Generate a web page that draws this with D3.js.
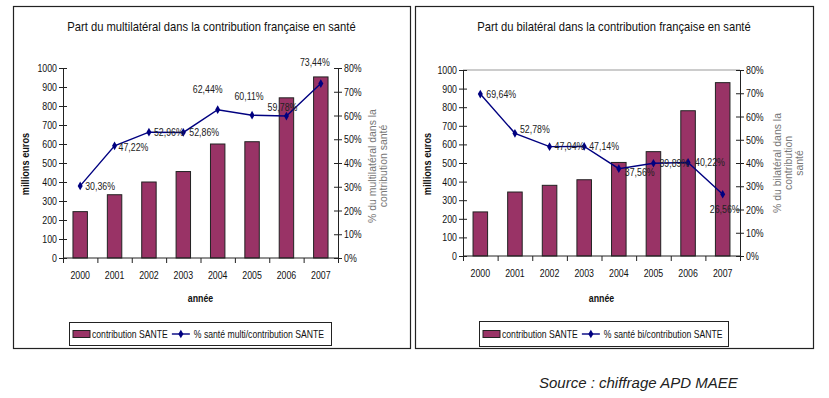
<!DOCTYPE html>
<html>
<head>
<meta charset="utf-8">
<script src="https://cdn.jsdelivr.net/npm/d3@7"></script>
<style>
  body { margin: 0; background: #fff; }
  svg { display: block; }
</style>
</head>
<body>
<svg id="chart" width="829" height="398"></svg>
<script>
// Years on the x axis (both panels)
const years = ["2000", "2001", "2002", "2003", "2004", "2005", "2006", "2007"];

// Left panel: multilateral
const multiContribution = [244, 333, 400, 455, 600, 612, 843, 953];
const multiShare = [30.36, 47.22, 52.96, 52.86, 62.44, 60.11, 59.78, 73.44];

// Right panel: bilateral
const biContribution = [237, 344, 380, 410, 503, 561, 781, 932];
const biShare = [69.64, 52.78, 47.04, 47.14, 37.56, 39.89, 40.22, 26.56];

// Axis tick values
const euroTicks = [0, 100, 200, 300, 400, 500, 600, 700, 800, 900, 1000];
const percentTicks = [0, 10, 20, 30, 40, 50, 60, 70, 80];

const FONT = "'Liberation Sans', Arial, sans-serif";
const NARROW_K = 0.8;   // squeeze factor to mimic Arial Narrow
const BAR_FILL = "#993366";
const LINE_COLOR = "#000080";

const svg = d3.select("#chart");
svg.append("rect").attr("width", 829).attr("height", 398).attr("fill", "#fff");

const fmtPct = v => d3.format(".2f")(v).replace(".", ",") + "%";

// squeeze text horizontally (no narrow font installed)
function condense(sel, k = NARROW_K) {
    sel.each(function () {
        const node = this;
        const w = node.getComputedTextLength();
        if (w > 0) {
            d3.select(node)
                .attr("textLength", w * k)
                .attr("lengthAdjust", "spacingAndGlyphs");
        }
    });
}

const panels = [
    {
        box: { x: 13, y: 6, w: 397, h: 342 },
        title: "Part du multilatéral dans la contribution française en santé",
        x0: 63, x1: 338, yTop: 68, yBottom: 258,
        bars: multiContribution, share: multiShare,
        rightTitle: ["% du multilatéral dans la", "contribution santé"],
        rightTitleX: 372, rightTitleY: 166,
        topLine: false,
        legend: { x: 69, y: 322, w: 262, h: 23 },
        legendLabel: "% santé multi/contribution SANTE",
        // label offsets (dx, dy, anchor) relative to each point
        labels: [[5, 0, "start"], [4, 1, "start"], [5, 0, "start"], [6, 0, "start"],
                 [-10, -21, "middle"], [-3, -19, "middle"], [-4, -9, "middle"], [-6, -21, "middle"]]
    },
    {
        box: { x: 415, y: 6, w: 398, h: 342 },
        title: "Part du bilatéral dans la contribution  française en santé",
        x0: 463, x1: 740, yTop: 70, yBottom: 256,
        bars: biContribution, share: biShare,
        rightTitle: ["% du bilatéral dans la", "contribution", "santé"],
        rightTitleX: 777, rightTitleY: 163,
        topLine: true,
        legend: { x: 479, y: 321, w: 249, h: 25 },
        legendLabel: "% santé bi/contribution SANTE",
        labels: [[6, 0, "start"], [5, -4, "start"], [5, 0, "start"], [5, 0, "start"],
                 [6, 3, "start"], [6, 0, "start"], [7, 0, "start"], [2, 15, "middle"]]
    }
];

panels.forEach(drawPanel);

// Source note
svg.append("text")
    .attr("x", 539)
    .attr("y", 388)
    .attr("font-family", FONT)
    .attr("font-style", "italic")
    .attr("font-size", 15)
    .attr("fill", "#222")
    .text("Source : chiffrage APD MAEE");

function drawPanel(p) {
    const g = svg.append("g");

    // Panel frame
    g.append("rect")
        .attr("x", p.box.x + 0.5).attr("y", p.box.y + 0.5)
        .attr("width", p.box.w).attr("height", p.box.h)
        .attr("fill", "#fff")
        .attr("stroke", "#222")
        .attr("stroke-width", 1.2);

    // Title
    g.append("text")
        .attr("x", p.box.x + p.box.w / 2)
        .attr("y", 31)
        .attr("text-anchor", "middle")
        .attr("font-family", FONT)
        .attr("font-size", 13.5)
        .attr("fill", "#111")
        .text(p.title)
        .call(condense, 0.83);

    const x = d3.scaleBand()
        .domain(years)
        .range([p.x0, p.x1])
        .paddingInner(0.58)
        .paddingOuter(0.29);

    const y = d3.scaleLinear().domain([0, 1000]).range([p.yBottom, p.yTop]);
    const y2 = d3.scaleLinear().domain([0, 80]).range([p.yBottom, p.yTop]);

    if (p.topLine) {
        g.append("line")
            .attr("x1", p.x0).attr("x2", p.x1)
            .attr("y1", p.yTop).attr("y2", p.yTop)
            .attr("stroke", "#999")
            .attr("stroke-width", 1);
    }

    // Bars
    g.selectAll(".bar")
        .data(p.bars)
        .join("rect")
        .attr("x", (d, i) => x(years[i]))
        .attr("y", d => y(d))
        .attr("width", x.bandwidth())
        .attr("height", d => y(0) - y(d))
        .attr("fill", BAR_FILL)
        .attr("stroke", "#222")
        .attr("stroke-width", 1);

    // Left axis
    const leftAxis = g.append("g")
        .attr("transform", `translate(${p.x0},0)`)
        .call(d3.axisLeft(y).tickValues(euroTicks).tickSize(4).tickPadding(2)
            .tickFormat(d3.format("d")));
    leftAxis.selectAll(".tick line").attr("x1", 4);

    // Right axis
    const rightAxis = g.append("g")
        .attr("transform", `translate(${p.x1},0)`)
        .call(d3.axisRight(y2).tickValues(percentTicks).tickSize(4).tickPadding(2)
            .tickFormat(d => d + "%"));
    rightAxis.selectAll(".tick line").attr("x1", -4);

    // Bottom axis: labels under bars, ticks at category boundaries
    const bottomAxis = g.append("g")
        .attr("transform", `translate(0,${p.yBottom})`)
        .call(d3.axisBottom(x).tickSize(0).tickPadding(13));
    bottomAxis.select(".domain").remove();

    const bounds = d3.scaleLinear().domain([0, years.length]).range([p.x0, p.x1]);
    g.append("g")
        .attr("transform", `translate(0,${p.yBottom})`)
        .call(d3.axisBottom(bounds).ticks(years.length).tickSize(5).tickFormat(""))
        .select(".domain").attr("d", `M${p.x0},0H${p.x1}`);

    [leftAxis, rightAxis, bottomAxis].forEach(a => {
        a.selectAll("text")
            .attr("font-family", FONT)
            .attr("font-size", 11)
            .attr("fill", "#111")
            .call(condense);
    });
    g.selectAll(".domain").attr("stroke", "#222");
    g.selectAll(".tick line").attr("stroke", "#222");

    // Axis titles
    g.append("text")
        .attr("transform", `translate(${p.box.x + 16},${(p.yTop + p.yBottom) / 2 + 1}) rotate(-90)`)
        .attr("text-anchor", "middle")
        .attr("font-family", FONT)
        .attr("font-weight", "bold")
        .attr("font-size", 11.5)
        .attr("fill", "#111")
        .text("millions euros")
        .call(condense);

    g.append("text")
        .attr("x", (p.x0 + p.x1) / 2)
        .attr("y", 302)
        .attr("text-anchor", "middle")
        .attr("font-family", FONT)
        .attr("font-weight", "bold")
        .attr("font-size", 11)
        .attr("fill", "#111")
        .text("année")
        .call(condense);

    const rt = g.append("text")
        .attr("transform", `translate(${p.rightTitleX},${p.rightTitleY}) rotate(-90)`)
        .attr("text-anchor", "middle")
        .attr("font-family", FONT)
        .attr("font-size", 11)
        .attr("fill", "#777");
    p.rightTitle.forEach((line, i) => {
        rt.append("tspan")
            .attr("x", 0)
            .attr("y", i * 11 + 4)
            .text(line);
    });
    rt.selectAll("tspan").call(condense, 0.95);

    // Share line with diamond markers
    const cx = i => x(years[i]) + x.bandwidth() / 2;
    const line = d3.line()
        .x((d, i) => cx(i))
        .y(d => y2(d));

    g.append("path")
        .datum(p.share)
        .attr("d", line)
        .attr("fill", "none")
        .attr("stroke", LINE_COLOR)
        .attr("stroke-width", 1.4);

    g.selectAll(".marker")
        .data(p.share)
        .join("path")
        .attr("transform", (d, i) => `translate(${cx(i)},${y2(d)})`)
        .attr("d", d3.symbol(d3.symbolDiamond, 22))
        .attr("fill", LINE_COLOR);

    // Data labels
    g.selectAll(".lbl")
        .data(p.share)
        .join("text")
        .attr("x", (d, i) => cx(i) + p.labels[i][0])
        .attr("y", (d, i) => y2(d) + p.labels[i][1])
        .attr("dy", "0.35em")
        .attr("text-anchor", (d, i) => p.labels[i][2])
        .attr("font-family", FONT)
        .attr("font-size", 11)
        .attr("fill", "#222")
        .text(fmtPct)
        .call(condense);

    // Legend
    const L = p.legend;
    const lg = g.append("g").attr("transform", `translate(${L.x},${L.y})`);
    lg.append("rect")
        .attr("x", 0.5).attr("y", 0.5)
        .attr("width", L.w).attr("height", L.h)
        .attr("fill", "#fff")
        .attr("stroke", "#222")
        .attr("stroke-width", 1);
    const my = L.h / 2 + 0.5;
    lg.append("rect")
        .attr("x", 4).attr("y", my - 3.5)
        .attr("width", 17).attr("height", 7)
        .attr("fill", BAR_FILL)
        .attr("stroke", "#222");
    const t1 = lg.append("text")
        .attr("x", 23).attr("y", my).attr("dy", "0.35em")
        .attr("font-family", FONT)
        .attr("font-size", 10.8)
        .attr("fill", "#111")
        .text("contribution SANTE");
    const w1 = t1.node().getComputedTextLength() * NARROW_K;
    t1.call(condense);
    const lx = 23 + w1 + 4;
    lg.append("line")
        .attr("x1", lx).attr("x2", lx + 18)
        .attr("y1", my).attr("y2", my)
        .attr("stroke", LINE_COLOR).attr("stroke-width", 1.4);
    lg.append("path")
        .attr("transform", `translate(${lx + 9},${my})`)
        .attr("d", d3.symbol(d3.symbolDiamond, 22))
        .attr("fill", LINE_COLOR);
    lg.append("text")
        .attr("x", lx + 22).attr("y", my).attr("dy", "0.35em")
        .attr("font-family", FONT)
        .attr("font-size", 10.8)
        .attr("fill", "#111")
        .text(p.legendLabel)
        .call(condense);
}
</script>
</body>
</html>
